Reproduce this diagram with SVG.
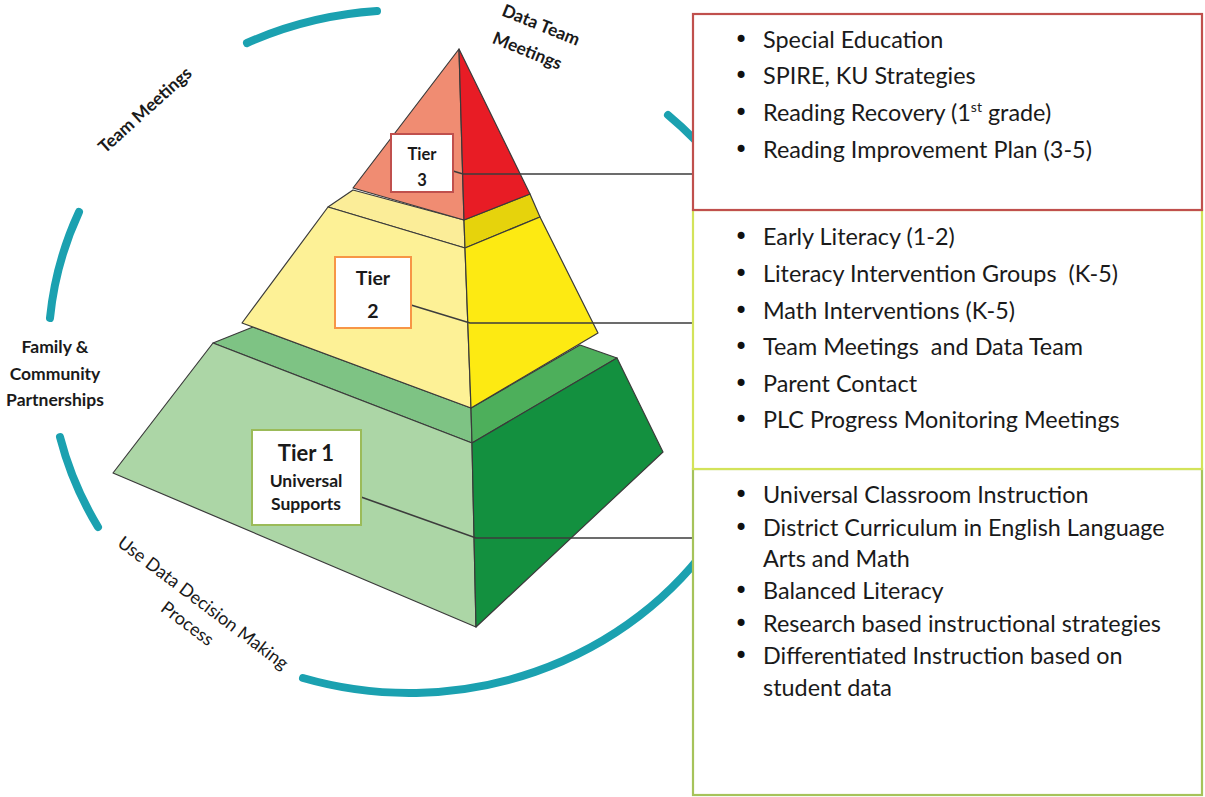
<svg xmlns="http://www.w3.org/2000/svg" width="1205" height="797" viewBox="0 0 1205 797">
  <style>
    .ring { fill: none; stroke: #1ba1b0; stroke-width: 8; stroke-linecap: round; }
    .face { stroke: #3a3a3a; stroke-width: 1.2; stroke-linejoin: round; }
    .lbl { font-family: Lato, "Liberation Sans", sans-serif; font-weight: bold; fill: #1a1a1a; }
    .side { font-family: Lato, "Liberation Sans", sans-serif; font-weight: bold; font-size: 17.5px; fill: #1a1a1a; }
    .side-r { font-family: Lato, "Liberation Sans", sans-serif; font-size: 18px; fill: #1a1a1a; }
    .conn { fill: none; stroke: #3c3c3c; stroke-width: 1.6; }
    .list { font-family: Lato, "Liberation Sans", sans-serif; font-size: 23.4px; fill: #1a1a1a; white-space: pre; }
    .bul { font-family: "DejaVu Sans", sans-serif; font-size: 24px; fill: #111; text-anchor: middle; }
    .panel { fill: #ffffff; stroke-width: 2.2; }
  </style>

  <rect width="1205" height="797" fill="#ffffff"/>

  <!-- dashed cycle ring around the pyramid -->
  <g id="ring">
    <path class="ring" d="M247,43 A365,345 0 0,1 377,11"/>
    <path class="ring" d="M668,115 A365,345 0 0,1 718,166"/>
    <path class="ring" d="M79,212 A365,345 0 0,0 50,318"/>
    <path class="ring" d="M60,437 A365,345 0 0,0 98,527"/>
    <path class="ring" d="M303,678 A365,345 0 0,0 716,535"/>
  </g>

  <!-- ring captions -->
  <g id="cap-team">
    <text class="side" transform="translate(145,110) rotate(-42)" x="0" y="6" text-anchor="middle">Team Meetings</text>
  </g>
  <g id="cap-data-team" transform="translate(541,25) rotate(22)">
    <text class="side" x="0" y="6" text-anchor="middle">Data Team</text>
    <text class="side" x="-3" y="35" text-anchor="middle">Meetings</text>
  </g>
  <g id="cap-family">
    <text class="side" x="55" y="353" text-anchor="middle">Family &amp;</text>
    <text class="side" x="55" y="380" text-anchor="middle">Community</text>
    <text class="side" x="55" y="406" text-anchor="middle">Partnerships</text>
  </g>
  <g id="cap-decision" transform="translate(203,603) rotate(37)">
    <text class="side-r" x="0" y="6" text-anchor="middle">Use Data Decision Making</text>
    <text class="side-r" x="0" y="32" text-anchor="middle">Process</text>
  </g>

  <!-- Tier 1 block (bottom) -->
  <g id="tier1-block">
    <polygon class="face" fill="#7ec384" points="213,343 253,327 471,408 472,443"/>
    <polygon class="face" fill="#4daf5b" points="471,408 580,345 617,358 472,443"/>
    <polygon class="face" fill="#acd6a6" points="213,343 472,443 476,627 113,473"/>
    <polygon class="face" fill="#13903f" points="472,443 617,358 663,452 476,627"/>
  </g>

  <!-- Tier 2 block (middle) -->
  <g id="tier2-block">
    <polygon class="face" fill="#fbed98" points="328,207 353,190 464,220 465,248"/>
    <polygon class="face" fill="#e6d30c" points="464,220 530,194 540,217 465,248"/>
    <polygon class="face" fill="#fdf196" points="328,207 465,248 471,408 242,323"/>
    <polygon class="face" fill="#fdea12" points="465,248 540,217 598,333 471,408"/>
  </g>

  <!-- Tier 3 block (apex) -->
  <g id="tier3-block">
    <polygon class="face" fill="#f08c72" points="459,49 464,220 353,188"/>
    <polygon class="face" fill="#e81c25" points="459,49 530,194 464,220"/>
  </g>

  <!-- leader lines from tier labels to the detail panels -->
  <g id="connectors">
    <polyline class="conn" points="453,171 463,174 693,174"/>
    <polyline class="conn" points="411,305 470,323 693,323"/>
    <polyline class="conn" points="361,497 476,538 693,538"/>
  </g>

  <!-- tier labels -->
  <g id="tier3-label">
    <rect x="391" y="134" width="62" height="58" fill="#ffffff" stroke="#c0504d" stroke-width="2"/>
    <text class="lbl" x="422" y="160" font-size="16.5" text-anchor="middle">Tier</text>
    <text class="lbl" x="422" y="186" font-size="16.5" text-anchor="middle">3</text>
  </g>
  <g id="tier2-label">
    <rect x="335" y="257" width="76" height="71" fill="#ffffff" stroke="#f79646" stroke-width="2"/>
    <text class="lbl" x="373" y="285" font-size="19.5" text-anchor="middle">Tier</text>
    <text class="lbl" x="373" y="318" font-size="19.5" text-anchor="middle">2</text>
  </g>
  <g id="tier1-label">
    <rect x="252" y="430" width="109" height="95" fill="#ffffff" stroke="#9bbb59" stroke-width="2"/>
    <text class="lbl" x="306" y="461" font-size="22" text-anchor="middle">Tier 1</text>
    <text class="lbl" x="306" y="487" font-size="17.5" text-anchor="middle">Universal</text>
    <text class="lbl" x="306" y="510" font-size="17.5" text-anchor="middle">Supports</text>
  </g>

  <!-- Tier 1 panel -->
  <g id="panel-tier1">
    <rect class="panel" x="693" y="469" width="509" height="326" stroke="#a6c35a"/>
    <text class="bul" x="741" y="503">•</text>
    <text class="list" x="763" y="503">Universal Classroom Instruction</text>
    <text class="bul" x="741" y="536">•</text>
    <text class="list" x="763" y="536">District Curriculum in English Language</text>
    <text class="list" x="763" y="567">Arts and Math</text>
    <text class="bul" x="741" y="599">•</text>
    <text class="list" x="763" y="599">Balanced Literacy</text>
    <text class="bul" x="741" y="632">•</text>
    <text class="list" x="763" y="632">Research based instructional strategies</text>
    <text class="bul" x="741" y="664">•</text>
    <text class="list" x="763" y="664">Differentiated Instruction based on</text>
    <text class="list" x="763" y="696">student data</text>
  </g>

  <!-- Tier 2 panel -->
  <g id="panel-tier2">
    <rect class="panel" x="693" y="210" width="509" height="259" stroke="#d3e35a"/>
    <text class="bul" x="741" y="245">•</text>
    <text class="list" x="763" y="245">Early Literacy (1-2)</text>
    <text class="bul" x="741" y="282">•</text>
    <text class="list" x="763" y="282">Literacy Intervention Groups  (K-5)</text>
    <text class="bul" x="741" y="319">•</text>
    <text class="list" x="763" y="319">Math Interventions (K-5)</text>
    <text class="bul" x="741" y="355">•</text>
    <text class="list" x="763" y="355">Team Meetings  and Data Team</text>
    <text class="bul" x="741" y="392">•</text>
    <text class="list" x="763" y="392">Parent Contact</text>
    <text class="bul" x="741" y="428">•</text>
    <text class="list" x="763" y="428">PLC Progress Monitoring Meetings</text>
  </g>

  <!-- Tier 3 panel -->
  <g id="panel-tier3">
    <rect class="panel" x="693" y="14" width="509" height="196" stroke="#c0504d"/>
    <text class="bul" x="741" y="48">•</text>
    <text class="list" x="763" y="48">Special Education</text>
    <text class="bul" x="741" y="84">•</text>
    <text class="list" x="763" y="84">SPIRE, KU Strategies</text>
    <text class="bul" x="741" y="121">•</text>
    <text class="list" x="763" y="121">Reading Recovery (1<tspan font-size="14" dy="-9">st</tspan><tspan dy="9"> grade)</tspan></text>
    <text class="bul" x="741" y="158">•</text>
    <text class="list" x="763" y="158">Reading Improvement Plan (3-5)</text>
  </g>
</svg>
